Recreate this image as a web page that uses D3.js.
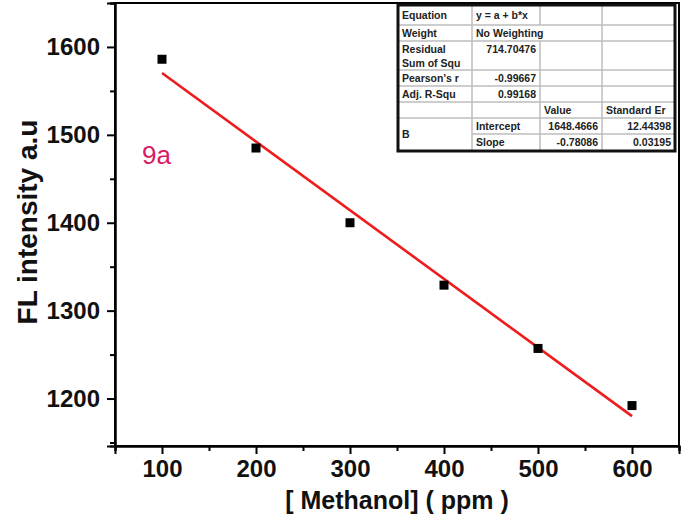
<!DOCTYPE html>
<html>
<head>
<meta charset="utf-8">
<script src="https://cdn.jsdelivr.net/npm/d3@7"></script>
<style>
  body { margin: 0; background: #fff; }
  text { font-family: "Liberation Sans", Arial, sans-serif; }
</style>
</head>
<body>
<script>
// methanol concentration (ppm) vs FL intensity
var methanol = [100, 200, 300, 400, 500, 600]
var intensity = [1586, 1485, 1400, 1329, 1257, 1192]
// linear fit y = a + b*x
var fitIntercept = 1648.4666
var fitSlope = -0.78086
var xTicks = [100, 200, 300, 400, 500, 600]
var xMinor = [50, 150, 250, 350, 450, 550, 650]
var yTicks = [1200, 1300, 1400, 1500, 1600]
var yMinor = [1150, 1250, 1350, 1450, 1550, 1650]

// fit report table (rows of cells)
var tableRows = [
  ['Equation', 'y = a + b*x', '', ''],
  ['Weight', 'No Weighting', '', ''],
  ['Residual|Sum of Squ', '714.70476', '', ''],
  ["Pearson's r", '-0.99667', '', ''],
  ['Adj. R-Squ', '0.99168', '', ''],
  ['', '', 'Value', 'Standard Er'],
  ['B', 'Intercept', '1648.4666', '12.44398'],
  ['', 'Slope', '-0.78086', '0.03195']
]

var width = 681, height = 518
var svg = d3.select('body')
            .append('svg')
            .attr('width', width)
            .attr('height', height)

var x = d3.scaleLinear().domain([50, 650]).range([115, 679])
var y = d3.scaleLinear().domain([1146, 1650]).range([446, 3])

// frame
svg.append('rect')
   .attr('x', x(50)).attr('y', y(1650))
   .attr('width', x(650) - x(50)).attr('height', y(1146) - y(1650))
   .attr('fill', 'none').attr('stroke', '#000').attr('stroke-width', 2)

// x axis
var xAxis = svg.append('g').attr('transform', 'translate(0,' + y(1146) + ')')
xAxis.call(d3.axisBottom(x).tickValues(xTicks).tickSize(8).tickPadding(6).tickFormat(d3.format('d')))
xAxis.append('g').call(d3.axisBottom(x).tickValues(xMinor).tickSize(5).tickFormat(''))
xAxis.selectAll('.domain').attr('stroke-width', 2)
xAxis.selectAll('.tick line').attr('stroke-width', 2)
xAxis.selectAll('text')
     .attr('font-size', 24).attr('font-weight', 'bold').attr('fill', '#111')
     .attr('font-family', '"Liberation Sans", Arial, sans-serif')

// y axis
var yAxis = svg.append('g').attr('transform', 'translate(' + x(50) + ',0)')
yAxis.call(d3.axisLeft(y).tickValues(yTicks).tickSize(8).tickPadding(7).tickFormat(d3.format('d')))
yAxis.append('g').call(d3.axisLeft(y).tickValues(yMinor).tickSize(5).tickFormat(''))
yAxis.selectAll('.domain').attr('stroke-width', 2)
yAxis.selectAll('.tick line').attr('stroke-width', 2)
yAxis.selectAll('text')
     .attr('font-size', 24).attr('font-weight', 'bold').attr('fill', '#111')
     .attr('font-family', '"Liberation Sans", Arial, sans-serif')

// axis titles
svg.append('text')
   .attr('x', 397).attr('y', 509)
   .attr('text-anchor', 'middle')
   .attr('font-size', 25).attr('font-weight', 'bold').attr('fill', '#111')
   .text('[ Methanol] ( ppm )')

svg.append('text')
   .attr('transform', 'translate(37,222) rotate(-90)')
   .attr('text-anchor', 'middle')
   .attr('font-size', 28).attr('font-weight', 'bold').attr('fill', '#111')
   .text('FL intensity a.u')

// fit line
var fitData = [d3.min(methanol), d3.max(methanol)].map(function(v){
  return {x: v, y: fitIntercept + fitSlope * v}
})
svg.append('path')
   .datum(fitData)
   .attr('d', d3.line().x(function(d){ return x(d.x) }).y(function(d){ return y(d.y) }))
   .attr('stroke', '#ee1c1c')
   .attr('stroke-width', 2.6)
   .attr('fill', 'none')

// points
svg.selectAll('rect.pt')
   .data(methanol)
   .enter()
   .append('rect')
   .attr('class', 'pt')
   .attr('x', function(d){ return x(d) - 4.5 })
   .attr('y', function(d, i){ return y(intensity[i]) - 4.5 })
   .attr('width', 9).attr('height', 9)
   .attr('fill', '#000')

// sample label
svg.append('text')
   .attr('x', 142).attr('y', 164)
   .attr('font-family', '"DejaVu Sans", sans-serif')
   .attr('font-size', 26)
   .attr('fill', '#d81b64')
   .text('9a')

// fit table
var colX = [398, 472, 540, 602, 675]
var rowY = [5, 25, 41, 70, 86, 102, 118, 134, 151]
var table = svg.append('g')
table.append('rect')
     .attr('x', colX[0]).attr('y', rowY[0])
     .attr('width', colX[4] - colX[0]).attr('height', rowY[8] - rowY[0])
     .attr('fill', '#fff')

// horizontal grid lines
for (var r = 1; r < rowY.length - 1; r++) {
  var startCol = (r === 7) ? 1 : 0
  table.append('line')
       .attr('x1', colX[startCol]).attr('x2', colX[4])
       .attr('y1', rowY[r]).attr('y2', rowY[r])
       .attr('stroke', '#bdbdbd').attr('stroke-width', 1.5)
}
// vertical grid lines
for (var c = 1; c < colX.length - 1; c++) {
  for (var r2 = 0; r2 < rowY.length - 1; r2++) {
    if (c === 2 && r2 === 1) continue
    table.append('line')
         .attr('x1', colX[c]).attr('x2', colX[c])
         .attr('y1', rowY[r2]).attr('y2', rowY[r2 + 1])
         .attr('stroke', '#bdbdbd').attr('stroke-width', 1.5)
  }
}
table.append('rect')
     .attr('x', colX[0]).attr('y', rowY[0])
     .attr('width', colX[4] - colX[0]).attr('height', rowY[8] - rowY[0])
     .attr('fill', 'none').attr('stroke', '#111').attr('stroke-width', 3)

tableRows.forEach(function(row, r){
  row.forEach(function(cell, c){
    if (!cell) return
    var numeric = /^-?[0-9.]+$/.test(cell)
    var lines = cell.split('|')
    var cy = (r === 2) ? rowY[r] + 8 : (rowY[r] + rowY[r + 1]) / 2
    if (r === 6 && c === 0) cy = rowY[7]
    lines.forEach(function(txt, k){
      table.append('text')
           .attr('x', numeric ? colX[c + 1] - 4 : colX[c] + 4)
           .attr('y', cy + k * 14)
           .attr('dy', '0.35em')
           .attr('text-anchor', numeric ? 'end' : 'start')
           .attr('font-size', 10.5).attr('font-weight', 'bold').attr('fill', '#222')
           .text(txt)
    })
  })
})
</script>
</body>
</html>
